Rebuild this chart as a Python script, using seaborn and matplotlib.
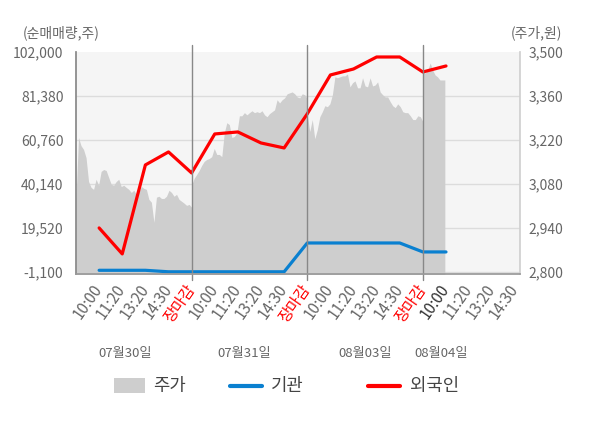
import numpy as np
import pandas as pd
import seaborn as sns
import matplotlib.pyplot as plt
from matplotlib.patches import Rectangle
from matplotlib.lines import Line2D
import matplotlib.transforms as mtransforms

# 주가 (분 단위, 그림에서 읽은 값) - 날짜별
price_day1 = [3034, 3228, 3202, 3190, 3164, 3088, 3069, 3063, 3095, 3076,
              3120, 3126, 3123, 3101, 3079, 3076, 3088, 3095, 3072, 3076,
              3069, 3063, 3053, 3060, 3047, 3053, 3072, 3066, 3063, 3031,
              3022, 2958, 3038, 3041, 3034, 3034, 3041, 3060, 3053, 3041,
              3047, 3031, 3025, 3019, 3012, 3015, 3006]
price_day2 = [3076, 3098, 3110, 3123, 3139, 3152, 3158, 3161, 3167, 3193,
              3174, 3174, 3167, 3243, 3275, 3269, 3228, 3231, 3243, 3297,
              3297, 3307, 3300, 3307, 3313, 3307, 3310, 3307, 3313, 3300,
              3294, 3304, 3310, 3316, 3348, 3338, 3348, 3354, 3367, 3370,
              3373, 3367, 3357, 3354, 3367, 3364, 3351]
price_day3 = [3300, 3247, 3285, 3224, 3253, 3294, 3310, 3329, 3326, 3335,
              3364, 3421, 3418, 3421, 3424, 3424, 3430, 3389, 3402, 3408,
              3386, 3386, 3418, 3392, 3389, 3418, 3392, 3395, 3405, 3373,
              3364, 3357, 3357, 3342, 3329, 3323, 3335, 3326, 3310, 3307,
              3307, 3297, 3285, 3285, 3297, 3294, 3278]
price_day4 = [3437, 3433, 3443, 3465, 3443, 3427, 3421, 3411, 3411, 3411]

# 순매매량 (주)
foreign = [19550, 7370, 49070, 55160, 45320, 63590, 64530, 59370, 57030,
           73000, 91230, 94040, 99660, 99660, 92640, 95450]
institution = [-300, -300, -300, -1000, -1000, -1000, -1000, -1000, -1000,
               12500, 12500, 12500, 12500, 12500, 8300, 8300]

day_times = ['10:00', '11:20', '13:20', '14:30', '장마감']
dates = ['07월30일', '07월31일', '08월03일', '08월04일']

left_ticks = [-1100, 19520, 40140, 60760, 81380, 102000]
right_ticks = [2800, 2940, 3080, 3220, 3360, 3500]

sns.set_theme(style='white')
plt.rcParams['font.family'] = ['Noto Sans CJK KR', 'DejaVu Sans']

fig = plt.figure(figsize=(6, 4.28), dpi=100)
ax = fig.add_axes([76 / 600, 1 - 274 / 428, 444 / 600, 222 / 428])
ax2 = ax.twinx()

# 주가 영역 (오른쪽 축)
days = [price_day1, price_day2, price_day3, price_day4]
x_all, p_all = [], []
for i, d in enumerate(days):
    end = 5 * i + (5 if i < 3 else 0.95)
    x_all.extend(np.linspace(5 * i, end, len(d)))
    p_all.extend(d)
px = np.array(x_all)
pp = np.array(p_all)
ax.set_facecolor('#f5f5f5')
ax.fill_between(px, 2700, pp, color='#cecece', lw=0, zorder=2)
ax.set_ylim(2793.6, 3500)
ax.set_yticks(right_ticks)
ax.set_yticklabels([f'{t:,}' for t in right_ticks])
ax.yaxis.tick_right()
ax.grid(False)
for t in right_ticks[:-1]:
    ax.axhline(t, color='#dcdcdc', lw=1, zorder=1)

# 순매매량 (왼쪽 축)
slots = np.arange(1, len(foreign) + 1)
df = pd.DataFrame({'slot': slots, '외국인': foreign, '기관': institution})
sns.lineplot(data=df, x='slot', y='기관', ax=ax2, color='#0a80d0', linewidth=2.3)
sns.lineplot(data=df, x='slot', y='외국인', ax=ax2, color='#ff0000', linewidth=2.3)
ax2.set_ylim(-2037, 102000)
ax2.set_yticks(left_ticks)
ax2.set_yticklabels([f'{t:,}' for t in left_ticks])
ax2.yaxis.tick_left()
ax2.set_xlabel('')
ax2.set_ylabel('')
ax2.grid(False)

ax.set_xlim(0, 19.2)
labels = day_times * 3 + day_times[:4]
ax.set_xticks(np.arange(1, 20))
ax.set_xticklabels(labels, rotation=55, ha='right', va='center',
                   rotation_mode='anchor', fontsize=11, color='#666666')
for i, lab in enumerate(ax.get_xticklabels()):
    if lab.get_text() == '장마감':
        lab.set_color('#ff0000')
    if i == 15:
        lab.set_color('#333333')

for a in (ax, ax2):
    a.tick_params(axis='y', length=0, labelsize=10, labelcolor='#666666')
    a.tick_params(axis='x', length=0)
    for s in a.spines.values():
        s.set_visible(False)
ax.tick_params(axis='x', pad=9)
ax2.tick_params(axis='y', pad=9)
ax.tick_params(axis='y', pad=6)

ax2.spines['left'].set_visible(True)
ax2.spines['left'].set_color('#888888')
ax2.spines['bottom'].set_visible(True)
ax2.spines['bottom'].set_color('#999999')
ax2.spines['right'].set_visible(True)
ax2.spines['right'].set_color('#d0d0d0')

for b in (5, 10, 15):
    ax2.axvline(b, ymin=-0.025, ymax=1.03, color='#888888', lw=1, clip_on=False)

trans = mtransforms.blended_transform_factory(ax.transData, fig.transFigure)
for xpos, d in zip([2.12, 7.26, 12.5, 15.8], dates):
    fig.text(xpos, 1 - 353 / 428, d, transform=trans, ha='center', va='center',
             fontsize=9.5, color='#666666')

fig.text(61 / 600, 1 - 33 / 428, '(순매매량,주)', ha='center', va='center',
         fontsize=10, color='#666666')
fig.text(536 / 600, 1 - 33 / 428, '(주가,원)', ha='center', va='center',
         fontsize=10, color='#666666')

# 범례
ly = 1 - 385.5 / 428
fig.patches.append(Rectangle((114 / 600, 1 - 393 / 428), 31 / 600, 15 / 428,
                             transform=fig.transFigure, facecolor='#cecece',
                             edgecolor='none'))
fig.lines.append(Line2D([230 / 600, 262 / 600], [ly, ly], transform=fig.transFigure,
                        color='#0a80d0', lw=3))
fig.lines.append(Line2D([368 / 600, 400 / 600], [ly, ly], transform=fig.transFigure,
                        color='#ff0000', lw=3))
for xpos, name in zip([153, 271, 410], ['주가', '기관', '외국인']):
    fig.text(xpos / 600, ly, name, ha='left', va='center', fontsize=12.8,
             color='#444444')

fig.savefig('out.png', dpi=100)
